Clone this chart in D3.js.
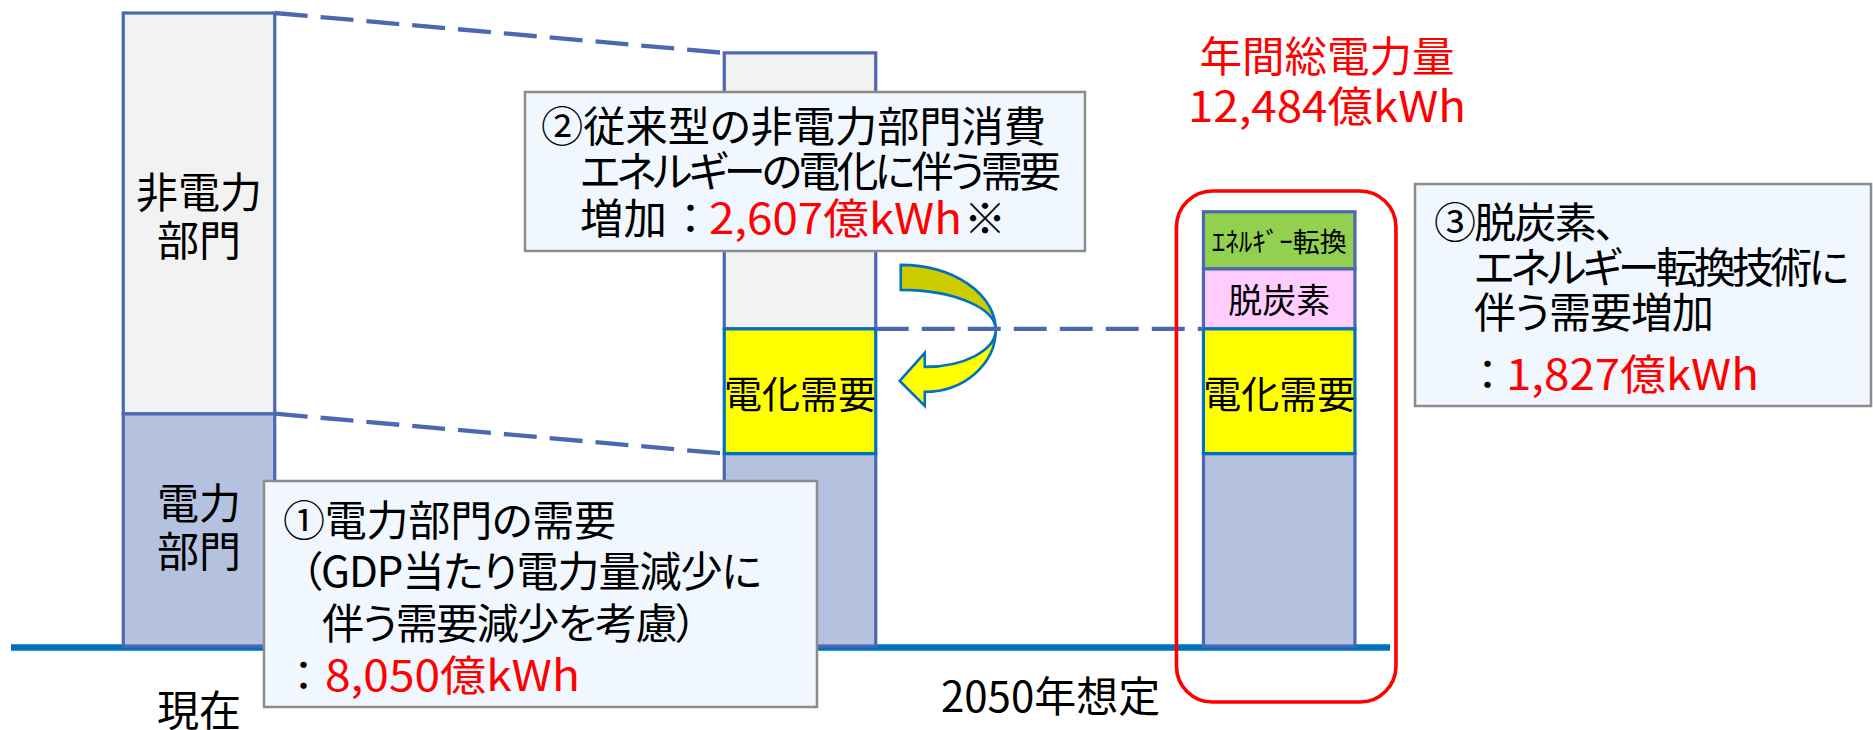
<!DOCTYPE html>
<html><head><meta charset="utf-8">
<script src="https://cdn.jsdelivr.net/npm/d3@7"></script>
<style>
html,body{margin:0;padding:0;background:#fff;}
svg{display:block;}
text{font-family:"Noto Sans CJK JP","Noto Sans",sans-serif;font-feature-settings:"palt";}
</style></head><body>
<svg id="chart" width="1873" height="730"></svg>
<script>
// ---------------- data ----------------
const categories = ["現在", "2050年想定（電化）", "2050年想定（脱炭素）"];
const axisLabels = ["現在", "2050年想定"];
const seriesKeys = ["power", "elec", "decarb", "conv", "nonpower"];
const seriesNames = ["電力部門", "電化需要", "脱炭素", "エネルギー転換", "非電力部門"];
// schematic bar heights (relative units, current total = 100)
const powerSector      = [36.7, 30.4, 30.4];
const electrification  = [0, 19.7, 19.7];
const decarbonization  = [0, 0, 9.5];
const energyConversion = [0, 0, 9.0];
const nonPowerSector   = [63.3, 43.6, 0];
// labels inside the bars
const powerLabels    = ["電力\n部門", "", ""];
const elecLabels     = ["", "電化需要", "電化需要"];
const decarbLabels   = ["", "", "脱炭素"];
const convLabels     = ["", "", "ｴﾈﾙｷﾞｰ転換"];
const nonpowerLabels = ["非電力\n部門", "", ""];
// demand values (億kWh)
const demandValues = ["8,050", "2,607", "1,827"];
const totalValue = "12,484";

// ---------------- layout ----------------
const svg = d3.select("#chart");
const y = d3.scaleLinear().domain([0, 100]).range([646, 13]);
const x = d3.scaleOrdinal().domain(categories).range([199, 800, 1279.2]);
const bw = 151.5;

const rows = categories.map((c, i) => ({
  cat: c, power: powerSector[i], elec: electrification[i], decarb: decarbonization[i],
  conv: energyConversion[i], nonpower: nonPowerSector[i]
}));
const stacked = d3.stack().keys(seriesKeys)(rows);
const labelsByKey = {power: powerLabels, elec: elecLabels, decarb: decarbLabels, conv: convLabels, nonpower: nonpowerLabels};
const fillByKey = {power: "#B4C1DF", elec: "#FFFF00", decarb: "#FFCCFF", conv: "#92D050", nonpower: "#F2F2F2"};
const strokeByKey = {power: "#4B68B0", elec: "#0070C0", decarb: "#4B68B0", conv: "#4B68B0", nonpower: "#4B68B0"};
const fontByKey = {power: 42, elec: 38, decarb: 34, conv: 27, nonpower: 42};

// axis baseline
svg.append("line").attr("x1", 11).attr("x2", 1390)
  .attr("y1", y(0) + 1.5).attr("y2", y(0) + 1.5)
  .attr("stroke", "#0070C0").attr("stroke-width", 6.5);

// bars (yellow drawn last so its border sits on top)
const drawOrder = ["power", "nonpower", "decarb", "conv", "elec"];
const gBars = svg.append("g");
drawOrder.forEach(k => {
  const layer = stacked.find(s => s.key === k);
  gBars.selectAll(null).data(layer.filter(d => d[1] - d[0] > 0)).enter().append("rect")
    .attr("x", d => x(d.data.cat) - bw / 2)
    .attr("y", d => y(d[1]))
    .attr("width", bw)
    .attr("height", d => y(d[0]) - y(d[1]))
    .attr("fill", fillByKey[k])
    .attr("stroke", strokeByKey[k])
    .attr("stroke-width", 3.2);
});

// bar labels
stacked.forEach(layer => {
  const k = layer.key;
  layer.forEach((d, i) => {
    const lab = labelsByKey[k][i];
    if (!lab) return;
    const lines = lab.split("\n");
    const cy = (y(d[0]) + y(d[1])) / 2 - (lines.length > 1 && k === "power" ? 5 : 0);
    const lh = 48;
    lines.forEach((ln, j) => {
      svg.append("text")
        .attr("x", x(d.data.cat))
        .attr("y", cy + (j - (lines.length - 1) / 2) * lh)
        .attr("text-anchor", "middle")
        .attr("dominant-baseline", "central")
        .attr("font-size", fontByKey[k])
        .attr("fill", "#000")
        .text(ln);
    });
  });
});

// curved arrow next to the middle bar
const xR = x(categories[1]) + bw / 2;
const yT = y(powerSector[1] + electrification[1]);
const P = (dx, dy) => (xR + dx) + "," + (yT + dy);
const gArrow = svg.append("g").attr("stroke", "#0070C0").attr("stroke-width", 2.6).attr("stroke-linejoin", "miter");
gArrow.append("path").attr("fill", "#CCCC00")
  .attr("d", `M${P(25,-64)} A95,65 0 0 1 ${P(120,1)} A95,40 0 0 0 ${P(25,-39)} Z`);
gArrow.append("path").attr("fill", "#FFFF00")
  .attr("d", `M${P(120,1)} A71,62 0 0 1 ${P(49,63)} L${P(49,77)} L${P(24,52)} L${P(49,24)} L${P(49,38)} A71,37 0 0 0 ${P(120,1)} Z`);

// dashed connector lines
const tot = i => powerSector[i] + electrification[i] + decarbonization[i] + energyConversion[i] + nonPowerSector[i];
const conns = [
  [x(categories[0]) + bw / 2, y(tot(0)), x(categories[1]) - bw / 2, y(tot(1))],
  [x(categories[0]) + bw / 2, y(powerSector[0]), x(categories[1]) - bw / 2, y(powerSector[1])],
  [x(categories[1]) + bw / 2, yT, x(categories[2]) - bw / 2, y(powerSector[2] + electrification[2])]
];
svg.selectAll(null).data(conns).enter().append("line")
  .attr("x1", d => d[0]).attr("y1", d => d[1]).attr("x2", d => d[2]).attr("y2", d => d[3])
  .attr("stroke", "#4B68B0").attr("stroke-width", 4.3).attr("stroke-dasharray", "33,13");

// red rounded frame around the final bar
const x3 = x(categories[2]);
svg.append("rect")
  .attr("x", x3 - bw / 2 - 27).attr("y", 191)
  .attr("width", bw + 68).attr("height", 511)
  .attr("rx", 36).attr("ry", 36)
  .attr("fill", "none").attr("stroke", "#FF0000").attr("stroke-width", 3.6);

// category labels
svg.append("text").attr("x", x(categories[0])).attr("y", 707)
  .attr("text-anchor", "middle").attr("dominant-baseline", "central")
  .attr("font-size", 42).text(axisLabels[0]);
svg.append("text").attr("x", (x(categories[1]) + x(categories[2])) / 2 + 11).attr("y", 693)
  .attr("text-anchor", "middle").attr("dominant-baseline", "central")
  .attr("font-size", 42).text(axisLabels[1]);

// helper for text runs: fit the run to the measured width
function run(r) {
  const t = svg.append("text")
    .attr("x", r.x).attr("y", r.y)
    .attr("text-anchor", r.anchor || "start")
    .attr("dominant-baseline", "central")
    .attr("font-size", r.fs || 42)
    .attr("fill", r.c || "#000")
    .text(r.t);
  if (r.w) {
    const n = Array.from(r.t).length;
    const natural = t.node().getComputedTextLength();
    if (natural < r.w) {
      // widen glyphs (reference font has wider digits/kana)
      t.attr("textLength", r.w).attr("lengthAdjust", "spacingAndGlyphs");
    } else if (n > 1) {
      const ls = (r.w - natural) / (n - 1);
      t.style("letter-spacing", ls + "px");
      if (r.anchor === "middle") t.attr("x", r.x + ls / 2);
    }
  }
  return t;
}

// annotation boxes
const boxes = [
  {x: 264, y: 481, w: 553, h: 226, runs: [
    {x: 283, y: 517, t: "①電力部門の需要", w: 333},
    {x: 301, y: 568, t: "（GDP当たり電力量減少に", w: 461},
    {x: 322, y: 620, t: "伴う需要減少を考慮）", w: 375},
    {x: 293, y: 672, t: "："},
    {x: 325, y: 672, t: demandValues[0] + "億kWh", c: "#FF0000", w: 255}
  ]},
  {x: 525, y: 92, w: 560, h: 159, runs: [
    {x: 541, y: 123, t: "②従来型の非電力部門消費", w: 505},
    {x: 580, y: 168, t: "エネルギーの電化に伴う需要", w: 481},
    {x: 580, y: 215, t: "増加", w: 87},
    {x: 680, y: 215, t: "："},
    {x: 709, y: 215, t: demandValues[1] + "億kWh", c: "#FF0000", w: 253},
    {x: 964, y: 215, t: "※"}
  ]},
  {x: 1415, y: 184, w: 456, h: 222, runs: [
    {x: 1434, y: 219, t: "③脱炭素、", w: 182},
    {x: 1474, y: 264, t: "エネルギー転換技術に", w: 375},
    {x: 1474, y: 309, t: "伴う需要増加", w: 240},
    {x: 1477, y: 371, t: "："},
    {x: 1506, y: 371, t: demandValues[2] + "億kWh", c: "#FF0000", w: 253}
  ]}
];
boxes.forEach(b => {
  svg.append("rect").attr("x", b.x).attr("y", b.y).attr("width", b.w).attr("height", b.h)
    .attr("fill", "#F0F7FE").attr("stroke", "#8C8C8C").attr("stroke-width", 2.5);
  b.runs.forEach(run);
});

// total annotation
run({x: 1327, y: 53, t: "年間総電力量", c: "#FF0000", anchor: "middle", w: 255});
run({x: 1327, y: 103, t: totalValue + "億kWh", c: "#FF0000", anchor: "middle", w: 278});
</script>
</body></html>
